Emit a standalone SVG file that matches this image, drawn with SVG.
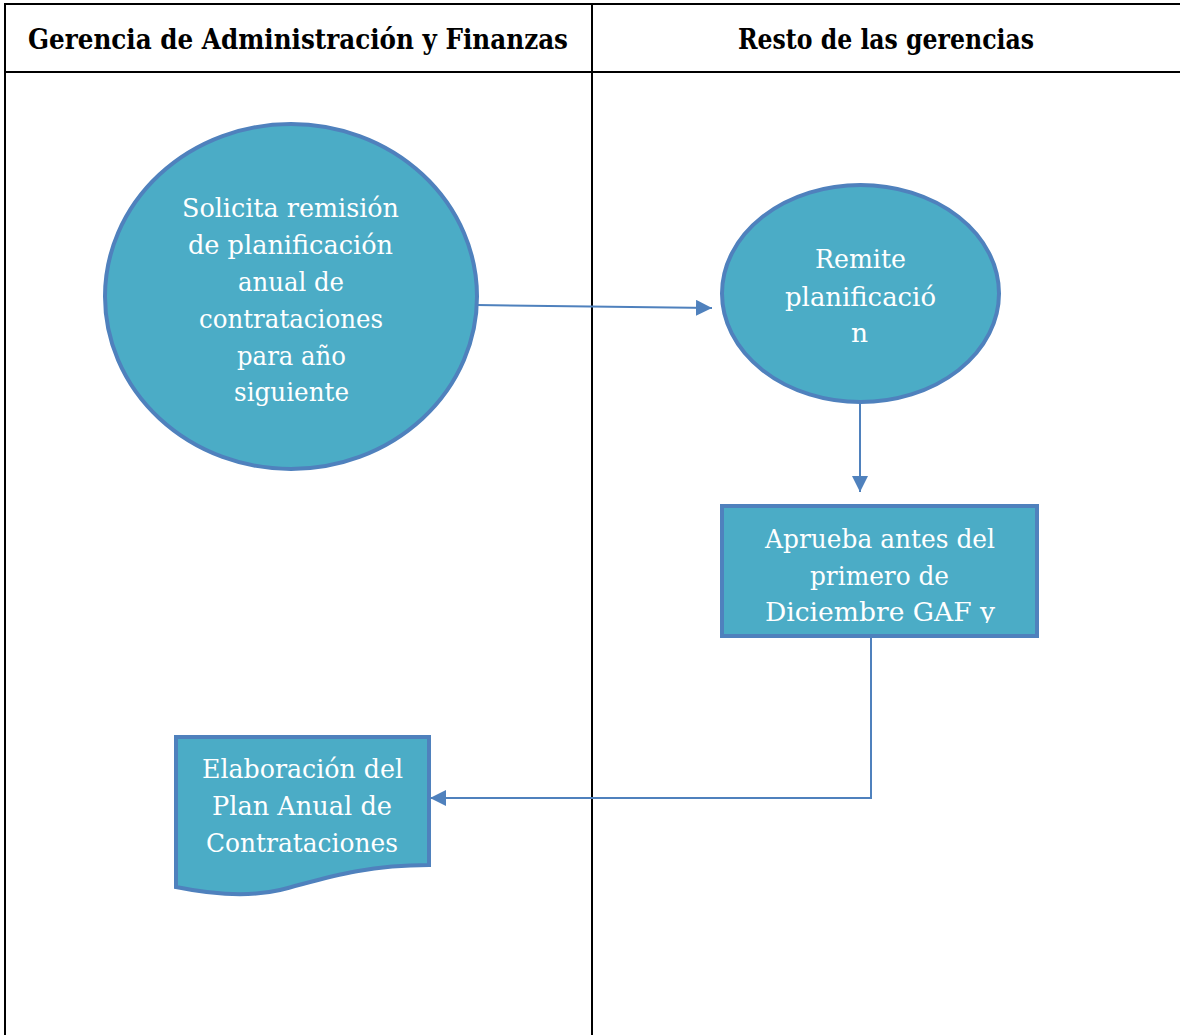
<svg xmlns="http://www.w3.org/2000/svg" width="1180" height="1035" viewBox="0 0 1180 1035">
<style>
.ln{stroke:#000;stroke-width:2;fill:none}
.hd{font-family:'DejaVu Serif',serif;font-weight:bold;font-size:27px;fill:#000;text-anchor:middle}
.shape{fill:#4bacc6;stroke:#4f81bd;stroke-width:4}
.t{font-family:'DejaVu Serif',serif;font-size:26.5px;fill:#fff;text-anchor:middle}
.con{stroke:#4f81bd;stroke-width:2;fill:none}
</style>
<defs>
<marker id="ah2" viewBox="0 0 10 10" refX="10" refY="5" markerWidth="16" markerHeight="16" markerUnits="userSpaceOnUse" orient="auto">
<path d="M0,0 L10,5 L0,10 z" fill="#4f81bd"/>
</marker>
<clipPath id="rc"><rect x="724" y="508" width="311" height="115"/></clipPath>
</defs>
<g id="table">
<line class="ln" x1="4" y1="4" x2="1180" y2="4"/>
<line class="ln" x1="4" y1="72" x2="1180" y2="72"/>
<line class="ln" x1="5" y1="3" x2="5" y2="1035"/>
<line class="ln" x1="592" y1="3" x2="592" y2="1035"/>
<text class="hd" x="298" y="49" textLength="540" lengthAdjust="spacingAndGlyphs">Gerencia de Administración y Finanzas</text>
<text class="hd" x="886" y="49" textLength="296" lengthAdjust="spacingAndGlyphs">Resto de las gerencias</text>
</g>
<g id="connectors">
<line class="con" x1="477" y1="305" x2="712" y2="308" marker-end="url(#ah2)"/>
<line class="con" x1="860" y1="402" x2="860" y2="492" marker-end="url(#ah2)"/>
<polyline class="con" points="871,636 871,798 430,798" marker-end="url(#ah2)"/>
</g>
<g id="n1">
<ellipse class="shape" cx="291" cy="296.5" rx="186" ry="172.5"/>
<text class="t" x="290.5" y="217" textLength="217" lengthAdjust="spacingAndGlyphs">Solicita remisión</text>
<text class="t" x="290.5" y="254" textLength="205" lengthAdjust="spacingAndGlyphs">de planificación</text>
<text class="t" x="291" y="291" textLength="106" lengthAdjust="spacingAndGlyphs">anual de</text>
<text class="t" x="291" y="328" textLength="184" lengthAdjust="spacingAndGlyphs">contrataciones</text>
<text class="t" x="291.5" y="365" textLength="109" lengthAdjust="spacingAndGlyphs">para año</text>
<text class="t" x="291.5" y="401" textLength="115" lengthAdjust="spacingAndGlyphs">siguiente</text>
</g>
<g id="n2">
<ellipse class="shape" cx="860.5" cy="293.5" rx="138.5" ry="108.5"/>
<text class="t" x="860.5" y="268" textLength="91" lengthAdjust="spacingAndGlyphs">Remite</text>
<text class="t" x="860.5" y="306" textLength="151" lengthAdjust="spacingAndGlyphs">planificació</text>
<text class="t" x="859.5" y="342">n</text>
</g>
<g id="n3">
<rect class="shape" x="722" y="506" width="315" height="130"/>
<g clip-path="url(#rc)">
<text class="t" x="880" y="548" textLength="230" lengthAdjust="spacingAndGlyphs">Aprueba antes del</text>
<text class="t" x="879.5" y="585" textLength="139" lengthAdjust="spacingAndGlyphs">primero de</text>
<text class="t" x="880" y="621" textLength="230" lengthAdjust="spacingAndGlyphs">Diciembre GAF y</text>
</g>
</g>
<g id="n4">
<path class="shape" d="M176,737 L429,737 L429,865 C360,865 320,880 280,890 C250,897 215,895 176,887 Z"/>
<text class="t" x="302.5" y="778" textLength="201" lengthAdjust="spacingAndGlyphs">Elaboración del</text>
<text class="t" x="302" y="815" textLength="180" lengthAdjust="spacingAndGlyphs">Plan Anual de</text>
<text class="t" x="302" y="852" textLength="192" lengthAdjust="spacingAndGlyphs">Contrataciones</text>
</g>
</svg>
